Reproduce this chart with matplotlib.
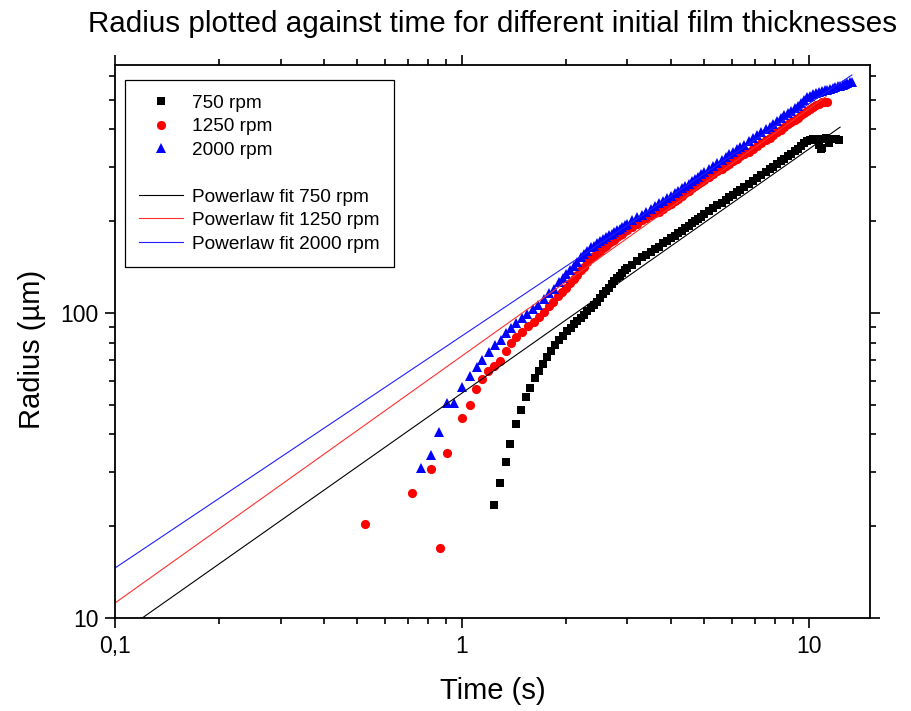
import numpy as np
import matplotlib
matplotlib.use("Agg")
import matplotlib.pyplot as plt
from matplotlib.lines import Line2D
from matplotlib.ticker import FixedLocator, FuncFormatter, NullFormatter

plt.rcParams['font.family'] = ['Liberation Sans', 'DejaVu Sans']

# measured radius vs time, 750 rpm
t750 = [1.24, 1.29, 1.34, 1.38, 1.43, 1.48, 1.53, 1.57, 1.62, 1.67, 1.71, 1.76, 1.81,
        1.86, 1.91, 1.96, 2.01, 2.06, 2.10, 2.15, 2.20, 2.25, 2.30, 2.35, 2.40, 2.45,
        2.5, 2.55, 2.6, 2.65, 2.7, 2.75, 2.8, 2.85, 2.9, 2.95, 3.0, 3.1, 3.2, 3.3, 3.4,
        3.5, 3.6, 3.7, 3.8, 3.9, 4.0, 4.1, 4.2, 4.3, 4.4, 4.5, 4.6, 4.7, 4.8, 4.9, 5.0,
        5.15, 5.3, 5.45, 5.6, 5.75, 5.9, 6.05, 6.2, 6.35, 6.5, 6.7, 6.9, 7.1, 7.3, 7.5,
        7.7, 7.9, 8.1, 8.3, 8.5, 8.7, 8.9, 9.1, 9.3, 9.5, 9.7, 9.9, 10.1, 10.3, 10.5,
        10.6, 10.7, 10.8, 10.9, 11.0, 11.2, 11.4, 11.6, 11.8, 12.0, 12.2]
r750 = [23.5, 27.8, 32.5, 37.1, 43.2, 48.0, 53.2, 56.6, 61.1, 64.7, 68.1, 71.9, 75.2,
        78.5, 81.5, 84.3, 87, 89.5, 92, 94, 96, 98.5, 101.5, 104, 106.5, 109,
        112, 115, 118, 121, 124, 127, 130, 132, 135, 138, 140, 144, 148, 152, 155,
        159, 162, 165, 169, 172, 176, 179, 183, 186, 190, 193, 197, 200, 204, 207, 211,
        216, 221, 226, 230, 235, 240, 244, 249, 253, 258, 264, 270, 277, 284, 290,
        296, 302, 308, 314, 320, 326, 332, 339, 345, 352, 360, 366, 369, 371, 372,
        368, 355, 346, 348, 371, 374, 362, 372, 373, 372, 370]

# 1250 rpm
t1250 = [0.525, 0.718, 0.812, 0.862, 0.907, 1.002, 1.052, 1.099, 1.144, 1.191, 1.236,
         1.29, 1.336, 1.381, 1.434, 1.492, 1.553, 1.616, 1.667, 1.722, 1.779, 1.826,
         1.891, 1.945, 2.0, 2.05, 2.1, 2.15, 2.2, 2.25, 2.3, 2.35, 2.4, 2.45, 2.5, 2.55,
         2.6, 2.65, 2.7, 2.75, 2.8, 2.85, 2.9, 2.95, 3.0, 3.1, 3.2, 3.3, 3.4, 3.5, 3.6,
         3.7, 3.8, 3.9, 4.0, 4.1, 4.2, 4.3, 4.4, 4.5, 4.6, 4.7, 4.8, 4.9, 5.0, 5.15, 5.3,
         5.45, 5.6, 5.75, 5.9, 6.05, 6.2, 6.35, 6.5, 6.7, 6.9, 7.1, 7.3, 7.5, 7.7, 7.9,
         8.1, 8.3, 8.5, 8.7, 8.9, 9.1, 9.3, 9.5, 9.7, 9.9, 10.1, 10.3, 10.5, 10.7, 10.9,
         11.1, 11.3]
r1250 = [20.4, 25.6, 30.7, 17.0, 34.7, 45.4, 50.0, 56.3, 60.6, 64.7, 67.0,
         69.8, 75.1, 79.5, 83.6, 86.8, 90.6, 93.7, 97.2, 101, 105, 108.9,
         113.7, 117.4, 121, 125, 129, 133, 138, 142, 147, 151, 154, 157, 160, 163,
         166, 169, 172, 174, 177, 180, 182, 185, 187, 192, 196, 201, 205, 209, 212,
         215, 220, 224, 228, 233, 237, 242, 247, 251, 256, 260, 265, 269, 273, 279, 285,
         291, 297, 303, 309, 315, 320, 326, 331, 338, 345, 352, 360, 368, 375, 383,
         391, 399, 407, 415, 423, 430, 437, 444, 452, 460, 468, 475, 481, 486, 490,
         492, 493]

# 2000 rpm
t2000 = [0.763, 0.812, 0.861, 0.907, 0.946, 1.002, 1.052, 1.106, 1.144, 1.195, 1.246,
         1.296, 1.336, 1.381, 1.434, 1.492, 1.544, 1.604, 1.661, 1.722, 1.779, 1.84,
         1.9, 1.95, 2.0, 2.05, 2.1, 2.15, 2.2, 2.25, 2.3, 2.35, 2.4, 2.45, 2.5, 2.55, 2.6,
         2.65, 2.7, 2.75, 2.8, 2.85, 2.9, 2.95, 3.0, 3.1, 3.2, 3.3, 3.4, 3.5, 3.6, 3.7,
         3.8, 3.9, 4.0, 4.1, 4.2, 4.3, 4.4, 4.5, 4.6, 4.7, 4.8, 4.9, 5.0, 5.15, 5.3, 5.45,
         5.6, 5.75, 5.9, 6.05, 6.2, 6.35, 6.5, 6.7, 6.9, 7.1, 7.3, 7.5, 7.7, 7.9, 8.1,
         8.3, 8.5, 8.7, 8.9, 9.1, 9.3, 9.5, 9.7, 9.9, 10.1, 10.3, 10.5, 10.7, 10.9, 11.1,
         11.3, 11.5, 11.7, 11.9, 12.1, 12.3, 12.5, 12.7, 12.9, 13.1, 13.3]
r2000 = [31.0, 34.2, 40.6, 50.6, 50.8, 57.4, 62.1, 66.4, 70.2, 74.2, 78.5,
         81.5, 85.8, 89.1, 92.5, 96.1, 99.2, 102.8, 106.2, 110.9, 116, 120,
         126, 130, 134, 138, 143, 147, 152, 156, 160, 164, 166, 169, 172, 175, 177,
         180, 182, 184, 187, 189, 191, 194, 196, 201, 206, 210, 215, 219, 224, 229,
         233, 238, 242, 247, 251, 256, 260, 265, 270, 275, 280, 285, 290, 297, 304, 311,
         318, 325, 331, 338, 344, 350, 356, 365, 374, 383, 391, 400, 408, 417, 426,
         435, 444, 453, 461, 469, 477, 488, 499, 509, 516, 521, 526, 530, 534, 537,
         540, 543, 546, 550, 553, 556, 559, 563, 567, 570, 573]

# power-law fits R = A * t^n
fit_A = [54.6, 72.3, 84.1]
fit_n = [0.80, 0.81, 0.761]
fit_tmax = [12.3, 11.2, 13.3]
fit_colors = ['black', '#ff3030', '#2020ff']

fig = plt.figure(figsize=(9.11, 7.11), dpi=100)
ax = fig.add_axes([0.1262, 0.1308, 0.8288, 0.7778])

ax.plot(t750, r750, 's', color='black', markersize=6.0, markeredgewidth=0, label='750 rpm')
ax.plot(t1250, r1250, 'o', color='red', markersize=6.6, markeredgewidth=0, label='1250 rpm')
ax.plot(t2000, r2000, '^', color='blue', markersize=7.6, markeredgewidth=0, label='2000 rpm')

for A, n, tm, c, name in zip(fit_A, fit_n, fit_tmax, fit_colors, ['750', '1250', '2000']):
    tt = np.array([0.1, tm])
    ax.plot(tt, A * tt ** n, '-', color=c, linewidth=0.8,
            label='Powerlaw fit %s rpm' % name)

ax.set_xscale('log')
ax.set_yscale('log')
ax.set_xlim(0.1, 15)
ax.set_ylim(10, 650)

ax.xaxis.set_major_locator(FixedLocator([0.1, 1, 10]))
ax.xaxis.set_major_formatter(FuncFormatter(lambda v, p: {0.1: '0,1', 1: '1', 10: '10'}.get(round(v, 3), '')))
ax.xaxis.set_minor_locator(FixedLocator([k * 0.1 for k in range(2, 10)] + list(range(2, 10)) + [20, 30]))
ax.xaxis.set_minor_formatter(NullFormatter())
ax.yaxis.set_major_locator(FixedLocator([10, 100]))
ax.yaxis.set_major_formatter(FuncFormatter(lambda v, p: '%d' % v))
ax.yaxis.set_minor_locator(FixedLocator(list(range(20, 100, 10)) + list(range(200, 700, 100))))
ax.yaxis.set_minor_formatter(NullFormatter())

ax.tick_params(which='both', direction='out', top=True, right=True,
               labeltop=False, labelright=False, width=1.2, labelsize=16.5, pad=5)
ax.tick_params(which='major', length=7)
ax.tick_params(which='minor', length=4)
for sp in ax.spines.values():
    sp.set_linewidth(1.3)

ax.set_xlabel('Time (s)', fontsize=21, labelpad=14)
ax.set_ylabel('Radius (\u00b5m)', fontsize=21, labelpad=12)
ax.yaxis.set_label_coords(-0.092, 0.485)
ax.set_title('Radius plotted against time for different initial film thicknesses',
             fontsize=21.3, pad=24)

h, l = ax.get_legend_handles_labels()
blank = Line2D([], [], linestyle='none')
handles = h[:3] + [blank] + h[3:]
labels = l[:3] + [' '] + l[3:]
leg = ax.legend(handles, labels, loc='upper left', bbox_to_anchor=(0.013, 0.972),
                borderaxespad=0, fancybox=False, edgecolor='black', framealpha=1,
                fontsize=13.7, handlelength=2.3, handletextpad=0.5,
                labelspacing=0.32, borderpad=0.75)
leg.get_frame().set_linewidth(0.9)

plt.savefig('out.png', dpi=100)
